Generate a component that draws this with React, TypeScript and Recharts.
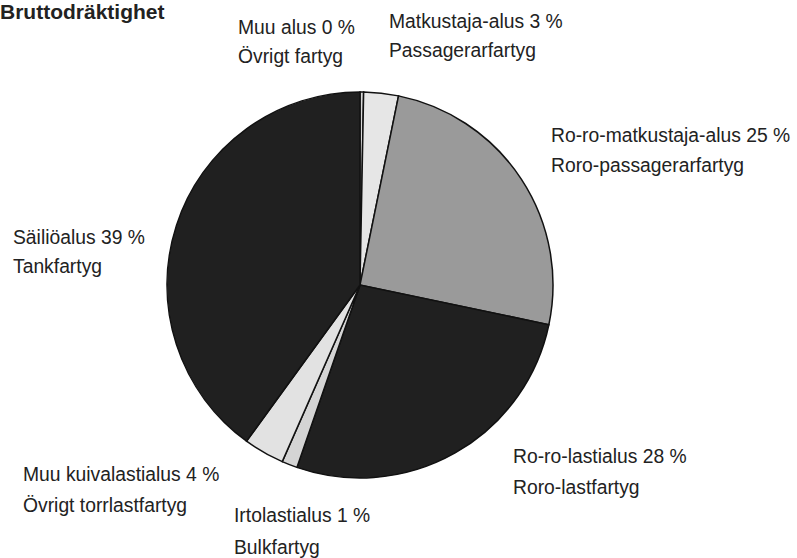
import React from 'react';
import { PieChart, Pie, Cell } from 'recharts';

const TITLE = 'Bruttodräktighet';
const FI_NAMES = ['Muu alus', 'Matkustaja-alus', 'Ro-ro-matkustaja-alus', 'Ro-ro-lastialus', 'Irtolastialus', 'Muu kuivalastialus', 'Säiliöalus'];
const SV_NAMES = ['Övrigt fartyg', 'Passagerarfartyg', 'Roro-passagerarfartyg', 'Roro-lastfartyg', 'Bulkfartyg', 'Övrigt torrlastfartyg', 'Tankfartyg'];
const SHARES = [0.3, 2.9, 25.1, 27.0, 1.3, 3.4, 40.0];
const SHARE_LABELS = ['0', '3', '25', '28', '1', '4', '39'];

const FILLS = ['#d8d8d8', '#e6e6e6', '#9a9a9a', '#202020', '#d4d4d4', '#e2e2e2', '#202020'];
// label anchor: left x, first baseline, second baseline
const LABEL_POS = [
  [238, 34, 63], [389, 28, 57], [551, 142, 172], [513, 463, 494], [234, 522, 554], [23, 481, 512], [13, 244, 273],
];

const data = SHARES.map((v, i) => ({ name: FI_NAMES[i], value: v }));

const Line2 = ({ x, y, children }: any) => (
  <text transform={`translate(${x},${y}) scale(0.92,1)`} fontSize={21} fill="#222">
    {children}
  </text>
);

const renderLabel = (props: any) => {
  const i = props.index;
  const [x, y1, y2] = LABEL_POS[i];
  return (
    <g key={'lbl' + i}>
      <Line2 x={x} y={y1}>{FI_NAMES[i] + ' ' + SHARE_LABELS[i] + ' %'}</Line2>
      <Line2 x={x} y={y2}>{SV_NAMES[i]}</Line2>
    </g>
  );
};

export default function App() {
  return (
    <div style={{ position: 'absolute', left: 0, top: 0, background: '#fff', fontFamily: '"Liberation Sans", Arial, sans-serif' }}>
      <PieChart width={797} height={558} margin={{ top: 0, right: 0, bottom: 0, left: 0 }}>
        <text x={0} y={19} fontSize={21} fontWeight="bold" fill="#222">{TITLE}</text>
        <Pie
          data={data}
          dataKey="value"
          cx={360}
          cy={285}
          outerRadius={193}
          startAngle={90}
          endAngle={-270}
          stroke="#111"
          strokeWidth={1.5}
          label={renderLabel}
          labelLine={false}
          isAnimationActive={false}
        >
          {data.map((d, i) => (
            <Cell key={d.name} fill={FILLS[i]} />
          ))}
        </Pie>
      </PieChart>
    </div>
  );
}
